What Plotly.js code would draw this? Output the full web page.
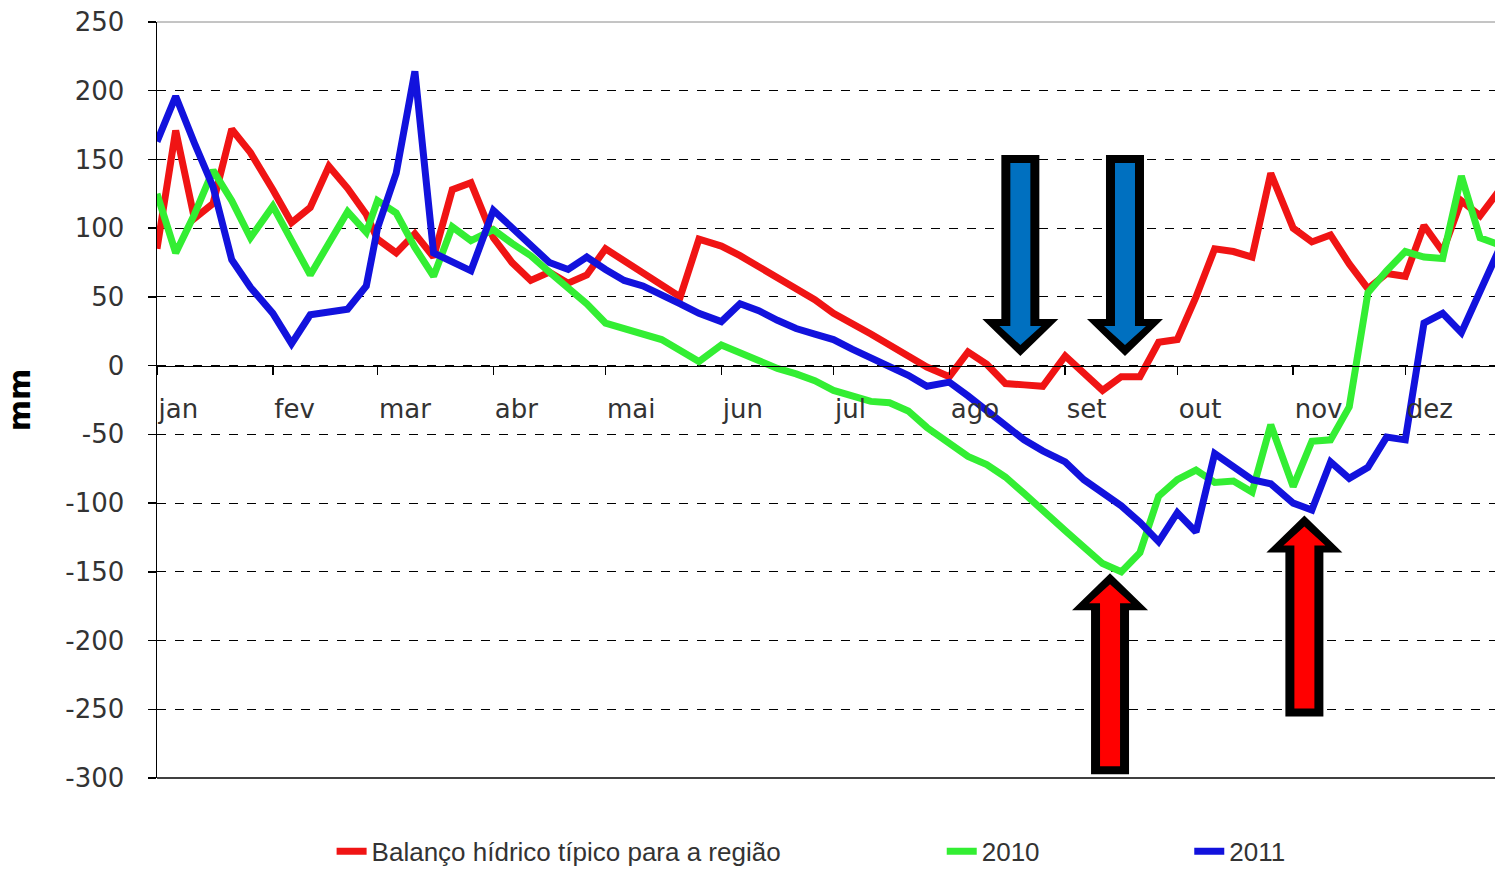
<!DOCTYPE html>
<html>
<head>
<meta charset="utf-8">
<script src="https://cdn.plot.ly/plotly-3.0.1.min.js"></script>
<style>html,body{margin:0;padding:0;background:#fff;}#chart{width:1495px;height:872px;}</style>
</head>
<body>
<div id="chart"></div>
<script>
// Pentad start dates (day of year) – 6 per month
const pentadDay = [0,5,10,15,20,25, 31,36,41,46,51,56, 59,64,69,74,79,84, 90,95,100,105,110,115,
  120,125,130,135,140,145, 151,156,161,166,171,176, 181,186,191,196,201,206, 212,217,222,227,232,237,
  243,248,253,258,263,268, 273,278,283,288,293,298, 304,309,314,319,324,329, 334,339,344,349,354,359];

const monthStartDay = [0,31,59,90,120,151,181,212,243,273,304,334];
const monthLabels = ['jan','fev','mar','abr','mai','jun','jul','ago','set','out','nov','dez'];

const yTickVals = [250,200,150,100,50,0,-50,-100,-150,-200,-250,-300];
const yTickText = ['250','200','150','100','50','0','-50','-100','-150','-200','-250','-300'];

const seriesNames = ['Balanço hídrico típico para a região','2010','2011'];

const tipico = [85,171,107,118,172,155, 128,104,115,145,129,110, 92,82,96,79,128,133,
  93,75,62,68,60,66, 85,76,67,59,50,92, 87,80,72,64,56,48,
  38,31,23,15,7,-1, -8,10,1,-13,-14,-15, 7,-5,-18,-8,-8,17,
  19,50,85,83,79,140, 100,90,95,74,56,67, 65,102,83,120,109,127];

const ano2010 = [125,82,110,142,120,93, 116,91,66,89,112,97, 120,111,86,65,101,91,
  99,89,80,68,56,45, 31,27,24,19,11,3, 15,9,3,-2,-6,-11,
  -18,-22,-26,-27,-33,-45, -57,-66,-72,-81,-93,-106, -120,-132,-144,-150,-136,-95,
  -83,-76,-85,-84,-92,-43, -88,-55,-54,-30,53,69, 83,79,78,138,93,88];

const ano2011 = [163,196,162,130,77,57, 38,16,37,39,41,58, 100,140,214,82,75,69,
  113,100,87,75,70,79, 70,62,58,52,45,38, 32,45,40,33,27,23,
  19,12,6,0,-7,-15, -12,-22,-33,-44,-54,-62, -70,-83,-92,-102,-114,-128,
  -107,-121,-64,-74,-83,-86, -100,-105,-70,-82,-74,-52, -54,31,38,24,53,84];

// Highlight arrows (anchored at their tip, in data units)
const arrowDay   = [231, 259, 255, 307];
const arrowTipMm = [7, 7, -151, -109];
const arrowDir   = [-1, -1, 1, 1];   // -1 points down, 1 points up
const arrowFill  = ['#0070C0','#0070C0','#FF0000','#FF0000'];

const colors = ['#F01414','#33EE33','#1212DD'];
const legendIds = ['legend','legend2','legend3'];
const series = [tipico, ano2010, ano2011];

const traces = series.map((vals, i) => ({
  type: 'scatter', mode: 'lines',
  x: pentadDay, y: vals,
  name: seriesNames[i],
  legend: legendIds[i],
  line: {color: colors[i], width: 7, shape: 'linear'},
  hoverinfo: 'skip'
}));

function poly(pts, dir) {
  return 'M' + pts.map(p => p[0] + ',' + (-dir * p[1])).join('L') + 'Z';
}
const outerPts = [[0,0],[38,37],[19,37],[19,201],[-19,201],[-19,37],[-38,37]];
const innerPts = [[0,11],[21,30],[10,30],[10,193],[-10,193],[-10,30],[-21,30]];

const shapes = [
  {type:'line', xref:'paper', yref:'paper', x0:0, x1:1, y0:1, y1:1, line:{color:'#8a8a8a', width:1}},
  {type:'line', xref:'paper', yref:'paper', x0:0, x1:1, y0:0, y1:0, line:{color:'#000', width:1.5}}
];
arrowDay.forEach((d, i) => {
  const base = {type:'path', xref:'x', yref:'y', xsizemode:'pixel', ysizemode:'pixel',
    xanchor: d, yanchor: arrowTipMm[i], layer:'above'};
  shapes.push(Object.assign({}, base, {path: poly(outerPts, arrowDir[i]), fillcolor:'#000', line:{width:0}}));
  shapes.push(Object.assign({}, base, {path: poly(innerPts, arrowDir[i]), fillcolor: arrowFill[i], line:{width:0}}));
});

const legendFont = {family:'Liberation Sans, Arial, sans-serif', size:26, color:'#333'};
function legendAt(x) {
  return {x: x, y: -0.097, xanchor:'left', yanchor:'middle', orientation:'h',
    font: legendFont, bgcolor:'rgba(0,0,0,0)', borderwidth:0, itemwidth:30};
}

const tickFont = {family:'DejaVu Sans, sans-serif', size:26, color:'#333'};

const layout = {
  width: 1495, height: 872,
  margin: {l:157, r:0, t:22, b:94, pad:0, autoexpand:false},
  paper_bgcolor:'#fff', plot_bgcolor:'#fff',
  showlegend: true,
  xaxis: {
    range:[0,358], anchor:'free', position: 300/550,
    showline:true, linecolor:'#000', linewidth:1.5,
    ticks:'outside', ticklen:8, tickwidth:1.5, tickcolor:'#000',
    tickmode:'array', tickvals: monthStartDay, ticktext: monthLabels,
    ticklabelposition:'outside right', ticklabelstandoff:20,
    tickfont: tickFont, showgrid:false, zeroline:false, fixedrange:true
  },
  yaxis: {
    range:[-300,250], tickmode:'array', tickvals: yTickVals, ticktext: yTickText,
    ticks:'outside', ticklen:8, tickwidth:1.5, tickcolor:'#000',
    showline:true, linecolor:'#000', linewidth:1.5,
    showgrid:true, gridcolor:'#000', griddash:'dash', gridwidth:1,
    zeroline:false, tickfont: tickFont, ticklabelstandoff:18, fixedrange:true,
    title:{text:'mm', font:{family:'DejaVu Sans, sans-serif', size:30, color:'#000', weight:'bold'}, standoff:26}
  },
  legend: legendAt(0.1305),
  legend2: legendAt(0.5865),
  legend3: legendAt(0.7715),
  shapes: shapes
};

Plotly.newPlot('chart', traces, layout, {staticPlot:true, displayModeBar:false});
</script>
</body>
</html>
